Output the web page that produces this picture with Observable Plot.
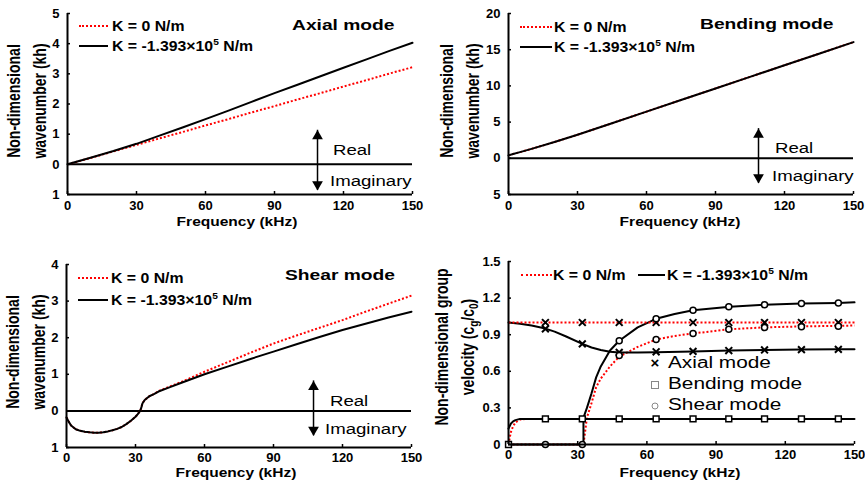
<!DOCTYPE html>
<html><head><meta charset="utf-8">
<script src="https://cdn.jsdelivr.net/npm/d3@7"></script>
<script src="https://cdn.jsdelivr.net/npm/@observablehq/plot@0.6"></script>
<style>
html,body{margin:0;padding:0;background:#fff;}
#wrap{position:relative;width:865px;height:484px;overflow:hidden;background:#fff;font-family:"Liberation Sans",Arial,Helvetica,sans-serif;color:#000;}
.panel{position:absolute;}
.panel svg{display:block;overflow:visible;}
.t{position:absolute;white-space:nowrap;line-height:1;transform-origin:0 50%;}
.ytitle{position:absolute;white-space:nowrap;font-weight:bold;font-size:14px;line-height:21px;text-align:center;transform:translate(-50%,-50%) scaleX(1.25) rotate(-90deg);}
.ytitle sub{font-size:10px;vertical-align:-3px;line-height:0;}
.title{font-weight:bold;font-size:15.5px;transform:translateY(-50%) scaleX(1.24);}
.leg{font-weight:bold;font-size:14px;transform:translateY(-50%) scaleX(1.13);}
.leg sup{font-size:9px;vertical-align:6px;line-height:0;}
.ri{font-size:15.5px;transform:translateY(-50%) scaleX(1.2);}
.xt{font-weight:bold;font-size:13.5px;transform:translate(-50%,-50%) scaleX(1.15);transform-origin:50% 50%;}
.mk{font-size:16px;transform:translateY(-50%) scaleX(1.3);}
.sw{position:absolute;height:0;margin-top:-1px;}
.sw.red{border-top:2px dotted #f00;}
.sw.blk{border-top:2px solid #000;}
.sym{position:absolute;box-sizing:border-box;transform:translate(-50%,-50%);}
</style>
</head>
<body>
<div id="wrap"></div>
<script>
// ---------- data ----------
const freqTicks = [0, 30, 60, 90, 120, 150];

// Axial mode wavenumber (kh)
const axialF  = [0,10,20,30,40,50,60,70,80,90,100,110,120,130,140,150];
const axialK0 = [0,0.21,0.43,0.645,0.86,1.07,1.29,1.5,1.72,1.93,2.15,2.36,2.58,2.79,3.01,3.22];
const axialK1 = [0,0.22,0.44,0.68,0.95,1.22,1.5,1.78,2.07,2.36,2.64,2.92,3.2,3.48,3.76,4.03];
const axialYTicks = [-1,0,1,2,3,4,5];

// Bending mode wavenumber (kh)
const bendF  = [0,2,5,10,20,30,45,60,75,90,105,120,135,150];
const bendK0 = [0.4,0.6,0.85,1.3,2.25,3.25,4.85,6.45,8.05,9.65,11.25,12.85,14.45,16.05];
const bendK1 = [0.4,0.6,0.85,1.3,2.25,3.25,4.85,6.45,8.05,9.65,11.25,12.85,14.45,16.05];
const bendYTicks = [-5,0,5,10,15,20];

// Shear mode wavenumber (kh), negative = imaginary part
const shearF  = [0,1,2,4,6,8,10,12,14,16,18,20,22,24,26,28,30,31,32,32.5,33,34,36,38,40,45,50,60,70,80,90,100,110,120,130,140,150];
const shearK0 = [-0.18,-0.3,-0.4,-0.5,-0.545,-0.57,-0.585,-0.595,-0.595,-0.585,-0.56,-0.53,-0.49,-0.44,-0.36,-0.27,-0.16,-0.09,0,0.08,0.2,0.3,0.4,0.46,0.54,0.67,0.79,1.07,1.33,1.59,1.84,2.06,2.27,2.48,2.71,2.93,3.15];
const shearK1 = [-0.18,-0.3,-0.4,-0.5,-0.545,-0.57,-0.585,-0.595,-0.595,-0.585,-0.56,-0.53,-0.49,-0.44,-0.36,-0.27,-0.16,-0.09,0,0.08,0.2,0.3,0.4,0.46,0.53,0.65,0.77,1.0,1.21,1.42,1.62,1.82,2.02,2.21,2.38,2.55,2.71];
const shearYTicks = [-1,0,1,2,3,4];

// Group velocity (cg/c0)
const gvAxialK0F = [0,150];
const gvAxialK0  = [1,1];
const gvAxialK1F = [0,5,10,16,20,25,32,36,40,44,48,56,64,80,96,111,127,143,150];
const gvAxialK1  = [1.0,0.99,0.975,0.95,0.925,0.885,0.825,0.795,0.775,0.76,0.755,0.755,0.757,0.763,0.77,0.775,0.778,0.78,0.78];
const gvBendF   = [0,1,2,3,5,8,16,32,48,64,80,96,111,127,143,150];
const gvBendK0  = [0,0.1,0.15,0.18,0.205,0.21,0.21,0.21,0.21,0.21,0.21,0.21,0.21,0.21,0.21,0.21];
const gvBendK1  = [0.13,0.17,0.19,0.2,0.21,0.21,0.21,0.21,0.21,0.21,0.21,0.21,0.21,0.21,0.21,0.21];
const gvShearF  = [0,16,32,32.5,32.5,34,35,36,38,40,44,48,56,64,72,80,96,111,127,143,150];
const gvShearK0 = [0,0,0,0,0,0.22,0.28,0.34,0.47,0.54,0.64,0.72,0.8,0.86,0.89,0.91,0.945,0.96,0.968,0.973,0.975];
const gvShearK1 = [0,0,0,0,0.22,0.3,0.36,0.42,0.55,0.64,0.77,0.85,0.96,1.03,1.07,1.1,1.13,1.145,1.155,1.16,1.165];
const gvYTicks = [0,0.3,0.6,0.9,1.2,1.5];

// markers on the group velocity curves
const mkF          = [16,32,48,64,80,95.5,111,127,143];
const mkAxialK0    = [1,1,1,1,1,1,1,1,1];
const mkAxialK1    = [0.948,0.825,0.755,0.76,0.763,0.77,0.775,0.778,0.78];
const mkBendF      = [0,16,32,48,64,80,95.5,111,127,143];
const mkBend       = [0,0.21,0.21,0.21,0.21,0.21,0.21,0.21,0.21,0.21];
const mkShearK0F   = [48,64,80,95.5,111,127,143];
const mkShearK0    = [0.73,0.86,0.91,0.945,0.958,0.965,0.97];
const mkShearK1    = [0,0,0.85,1.03,1.1,1.13,1.145,1.155,1.16];

// Real / Imaginary arrow annotations (data units)
const arrowAxial = {x:108.7, y1:1.13, y2:-0.86};
const arrowBend  = {x:108.7, y1:4.1, y2:-3.45};
const arrowShear = {x:107.4, y1:0.82, y2:-0.68};

// ---------- helpers ----------
const rows = (xs, ys) => xs.map((x, i) => ({x, y: ys[i]}));
const redLine = (xs, ys) => Plot.line(rows(xs, ys), {x:"x", y:"y", stroke:"#ff0000", strokeWidth:2, strokeDasharray:"2,2", strokeLinecap:"butt"});
const blkLine = (xs, ys) => Plot.line(rows(xs, ys), {x:"x", y:"y", stroke:"#000", strokeWidth:2});
const arrowMarks = a => [
  Plot.ruleX([a], {x:"x", y1:"y1", y2:"y2", strokeWidth:1.5}),
  Plot.dot([a], {x:"x", y:"y1", symbol:"triangle", r:4, fill:"#000", stroke:"none", dy:6}),
  Plot.dot([a], {x:"x", y:"y2", symbol:"triangle", r:4, fill:"#000", stroke:"none", dy:-6, rotate:180})
];

function panel(cfg, marks) {
  const innerW = cfg.width - cfg.mL - cfg.mR, innerH = cfg.height - cfg.mT - cfg.mB;
  const svg = Plot.plot({
    width: cfg.width, height: cfg.height,
    marginLeft: cfg.mL, marginRight: cfg.mR, marginTop: cfg.mT, marginBottom: cfg.mB,
    x: {domain: [0, 150]},
    y: {domain: cfg.yDomain},
    style: {fontFamily: '"Liberation Sans", Arial, sans-serif', fontSize: "13px", fontWeight: "bold", color: "#000", background: "transparent", overflow: "visible"},
    marks: [
      ...(cfg.zero ? [Plot.ruleY([0], {strokeWidth: 2})] : []),
      ...marks,
      Plot.tickY(cfg.yTicks, {y: d => d, insetRight: innerW - 3, strokeWidth: 1.5}),
      Plot.tickX(freqTicks, {x: d => d, insetTop: innerH - 3, strokeWidth: 1.5}),
      Plot.ruleX([0], {strokeWidth: 2}),
      Plot.ruleY([cfg.yDomain[0]], {strokeWidth: 2}),
      Plot.axisX({ticks: freqTicks, tickSize: 0, tickPadding: cfg.xPad, label: null}),
      Plot.axisY({ticks: cfg.yTicks, tickSize: 0, tickPadding: 8, tickFormat: cfg.yFormat, label: null})
    ]
  });
  const div = document.createElement("div");
  div.className = "panel";
  div.style.left = cfg.left + "px";
  div.style.top = cfg.top + "px";
  div.appendChild(svg);
  document.getElementById("wrap").appendChild(div);
}

const absFmt = d => String(Math.abs(d));
const gvFmt = d => d === 0 ? "0" : d.toFixed(1);

// Panel 1: axial
panel({left:0, top:0, width:430, height:240, mL:67, mR:18, mT:13, mB:46, xPad:6, yDomain:[-1,5], yTicks:axialYTicks, yFormat:absFmt, zero:true}, [
  redLine(axialF, axialK0),
  blkLine(axialF, axialK1),
  ...arrowMarks(arrowAxial)
]);
// Panel 2: bending
panel({left:430, top:0, width:435, height:240, mL:78, mR:12, mT:13, mB:46, xPad:6, yDomain:[-5,20], yTicks:bendYTicks, yFormat:absFmt, zero:true}, [
  redLine(bendF, bendK0),
  blkLine(bendF, bendK1),
  ...arrowMarks(arrowBend)
]);
// Panel 3: shear
panel({left:0, top:240, width:430, height:244, mL:66, mR:19, mT:24, mB:37, xPad:5, yDomain:[-1,4], yTicks:shearYTicks, yFormat:absFmt, zero:true}, [
  redLine(shearF, shearK0),
  blkLine(shearF, shearK1),
  ...arrowMarks(arrowShear)
]);
// Panel 4: group velocity
panel({left:430, top:240, width:435, height:244, mL:78, mR:11, mT:21, mB:40, xPad:5, yDomain:[0,1.5], yTicks:gvYTicks, yFormat:gvFmt, zero:false}, [
  redLine(gvBendF, gvBendK0),
  redLine(gvShearF, gvShearK0),
  blkLine(gvBendF, gvBendK1),
  blkLine(gvAxialK1F, gvAxialK1),
  blkLine(gvShearF, gvShearK1),
  redLine(gvAxialK0F, gvAxialK0),
  Plot.dot(rows(mkF, mkAxialK0), {x:"x", y:"y", symbol:"times", r:3.2, stroke:"#000", strokeWidth:2}),
  Plot.dot(rows(mkF, mkAxialK1), {x:"x", y:"y", symbol:"times", r:3.2, stroke:"#000", strokeWidth:2}),
  Plot.dot(rows(mkBendF, mkBend), {x:"x", y:"y", symbol:"square", r:3.3, fill:"#fff", stroke:"#000", strokeWidth:1.5}),
  Plot.dot(rows(mkShearK0F, mkShearK0), {x:"x", y:"y", symbol:"circle", r:3, fill:"#fff", stroke:"#000", strokeWidth:1.5}),
  Plot.dot(rows(mkF, mkShearK1), {x:"x", y:"y", symbol:"circle", r:3, fill:"#fff", stroke:"#000", strokeWidth:1.5})
]);

// ---------- text overlays ----------
const wrap = document.getElementById("wrap");
function add(html, cls, left, top, extra) {
  const d = document.createElement("div");
  d.className = cls;
  d.innerHTML = html;
  d.style.left = left + "px";
  d.style.top = top + "px";
  if (extra) Object.assign(d.style, extra);
  wrap.appendChild(d);
  return d;
}
const k0 = "K = 0 N/m";
const k1 = "K = -1.393×10<sup>5</sup> N/m";
const yt1 = "Non-dimensional<br>wavenumber (kh)";

// titles
add("Axial mode", "t title", 292, 25);
add("Bending mode", "t title", 700, 24);
add("Shear mode", "t title", 285, 275);

// legends (swatch + text)
function legendRow(swCls, x0, w, y, textLeft, text) {
  add("", "sw " + swCls, x0, y, {width: w + "px"});
  add(text, "t leg", textLeft, y);
}
legendRow("red", 79, 29, 26, 112, k0);
legendRow("blk", 79, 29, 46, 112, k1);
legendRow("red", 520, 32, 27, 554, k0);
legendRow("blk", 520, 32, 47, 554, k1);
legendRow("red", 78, 30, 278, 111, k0);
legendRow("blk", 78, 30, 300, 111, k1);
legendRow("red", 521, 31, 275, 553, k0);
legendRow("blk", 638, 27, 275, 667, k1);

// Real / Imaginary
add("Real", "t ri", 333, 150);
add("Imaginary", "t ri", 330, 181);
add("Real", "t ri", 775, 148);
add("Imaginary", "t ri", 772, 176);
add("Real", "t ri", 330, 401);
add("Imaginary", "t ri", 325, 429);

// x titles
add("Frequency (kHz)", "t xt", 237, 222);
add("Frequency (kHz)", "t xt", 680, 222);
add("Frequency (kHz)", "t xt", 236, 473);
add("Frequency (kHz)", "t xt", 680, 473);

// y titles
add(yt1, "ytitle", 27, 101);
add(yt1, "ytitle", 460, 101);
add(yt1, "ytitle", 26, 352);
add("Non-dimensional group<br>velocity (c<sub>g</sub>/c<sub>0</sub>)", "ytitle", 455, 347);

// marker legend
add("×", "sym", 655, 362, {fontSize:"15px", fontWeight:"bold", lineHeight:"1"});
add("", "sym", 655, 385, {width:"8px", height:"8px", border:"1.5px solid #888"});
add("", "sym", 655, 406, {width:"7px", height:"7px", border:"1.5px solid #888", borderRadius:"50%"});
add("Axial mode", "t mk", 668, 363);
add("Bending mode", "t mk", 668, 384);
add("Shear mode", "t mk", 668, 405);
</script>
</body></html>
